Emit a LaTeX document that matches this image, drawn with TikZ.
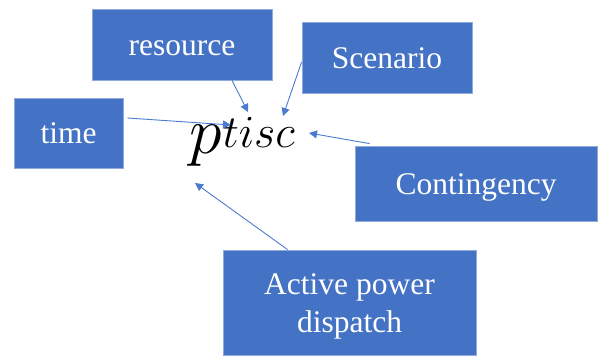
\RequirePackage{fix-cm}
\documentclass[tikz,border=0pt]{standalone}
\usepackage{fontspec}
\newfontfamily\boxfont{Liberation Serif}
\usetikzlibrary{arrows.meta,calc}
\definecolor{boxblue}{HTML}{4472C4}
\definecolor{boxedge}{HTML}{8FAADC}
\definecolor{linkblue}{HTML}{4A7BD0}
\tikzset{
  dimbox/.style={rectangle, fill=boxblue, draw=boxedge, line width=0.8pt,
    inner sep=0pt, text=white, align=center,
    text height=21pt, text depth=0pt,
    font=\boxfont\fontsize{31.5}{38}\selectfont},
  link/.style={draw=linkblue, line width=0.9pt,
    -{Triangle[length=8pt,width=8pt]}}
}
\begin{document}
\begin{tikzpicture}[x=1pt,y=-1pt]
  \useasboundingbox (0,0) rectangle (598,356);

  % index boxes
  \node[dimbox, minimum width=180pt, minimum height=71pt] (res)  at (182,44.5)  {resource};
  \node[dimbox, minimum width=109pt, minimum height=70pt] (time) at (68.5,133)  {time};
  \node[dimbox, minimum width=170pt, minimum height=71pt] (scn)  at (387,57.5)  {Scenario};
  \node[dimbox, minimum width=242pt, minimum height=75pt] (cont) at (476,183.5) {Contingency};
  \node[dimbox, text height=59pt, minimum width=253pt, minimum height=105pt] (act) at (349.5,302.5) {Active power\\dispatch};

  % indexed variable
  \node[inner sep=0pt, anchor=base west] (sym) at (189,153)
    {\fontsize{66}{66}\selectfont$p$\kern1pt\raisebox{6pt}{\fontsize{46}{46}\selectfont$tisc$}};

  % arrow heads around the symbol
  \coordinate (inRes)  at (248,112);
  \coordinate (inScn)  at (283,116);
  \coordinate (inTime) at (231,125);
  \coordinate (inCont) at (309,133);
  \coordinate (inAct)  at (195,183);

  \draw[link] ($(res.south)+(50,0)$)        -- (inRes);
  \draw[link] ($(scn.west)+(0,4.5)$)        -- (inScn);
  \draw[link] ($(time.east)+(4,-15)$)       -- (inTime);
  \draw[link] ($(cont.north west)+(15,-2)$) -- (inCont);
  \draw[link] ($(act.north west)+(65,0)$)   -- (inAct);
\end{tikzpicture}
\end{document}
